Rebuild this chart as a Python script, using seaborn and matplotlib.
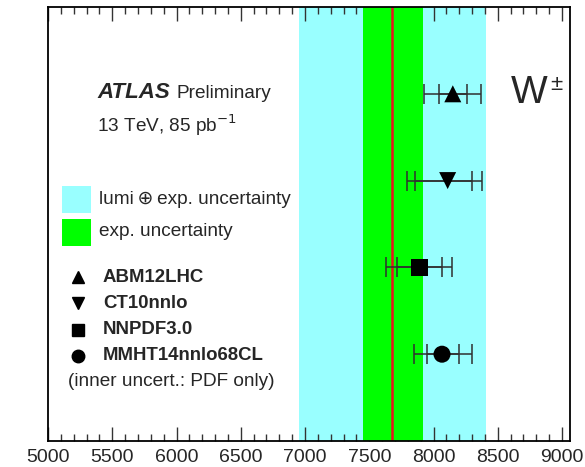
import numpy as np
import pandas as pd
import matplotlib
matplotlib.use('Agg')
import matplotlib.pyplot as plt
import seaborn as sns
from matplotlib.patches import Rectangle
from matplotlib.ticker import MultipleLocator

# data
meas_central = 7680
exp_band = [7450, 7915]
lumi_band = [6955, 8410]

pred_names = ['ABM12LHC', 'CT10nnlo', 'NNPDF3.0', 'MMHT14nnlo68CL']
pred_markers = ['^', 'v', 's', 'o']
pred_value = [8150, 8110, 7890, 8066]
pdf_lo = [8045, 7859, 7713, 7953]
pdf_hi = [8258, 8300, 8064, 8201]
tot_lo = [7929, 7791, 7633, 7846]
tot_hi = [8370, 8377, 8147, 8297]
pred_row = [4, 3, 2, 1]

xticks = [5000, 5500, 6000, 6500, 7000, 7500, 8000, 8500, 9000]

sns.set_theme(style='ticks')
plt.rcParams['font.family'] = ['Liberation Sans', 'DejaVu Sans']

W, H = 585, 467
fig = plt.figure(figsize=(W / 100, H / 100), dpi=100)
ax = fig.add_axes([48 / W, 1 - 441 / H, (570 - 48) / W, (441 - 7) / H])

df = pd.DataFrame({'name': pred_names, 'value': pred_value, 'row': pred_row,
                   'pdf_lo': pdf_lo, 'pdf_hi': pdf_hi, 'tot_lo': tot_lo, 'tot_hi': tot_hi})

# bands + measurement
ax.axvspan(lumi_band[0], lumi_band[1], color='#99ffff', lw=0, zorder=0)
ax.axvspan(exp_band[0], exp_band[1], color='#00ff00', lw=0, zorder=1)
ax.axvline(meas_central, color='#e8141e', lw=1.8, zorder=2)

# predictions: outer = total, inner = PDF only
for _, r in df.iterrows():
    ax.errorbar(r['value'], r['row'], xerr=[[r['value'] - r['tot_lo']], [r['tot_hi'] - r['value']]],
                fmt='none', ecolor='#303030', elinewidth=1.1, capsize=7, capthick=1.1, zorder=3)
    ax.errorbar(r['value'], r['row'], xerr=[[r['value'] - r['pdf_lo']], [r['pdf_hi'] - r['value']]],
                fmt='none', ecolor='#303030', elinewidth=1.1, capsize=7, capthick=1.1, zorder=3)
sns.scatterplot(data=df, x='value', y='row', style='name', markers=dict(zip(pred_names, pred_markers)),
                color='black', s=150, edgecolor='black', linewidth=0, legend=False, ax=ax, zorder=4)

ax.set_xlim(5000, 9062)
ax.set_ylim(0, 5)
ax.set_xticks(xticks)
ax.xaxis.set_minor_locator(MultipleLocator(100))
ax.set_yticks([])
ax.tick_params(axis='x', which='both', direction='in', top=True, bottom=True,
               labelsize=14, pad=6, color='#333333')
ax.tick_params(axis='x', which='major', length=10, width=1)
ax.tick_params(axis='x', which='minor', length=5, width=1)
for s in ax.spines.values():
    s.set_linewidth(1.3)
    s.set_color('black')
ax.set_xlabel('')
ax.set_ylabel('')


def fx(px):
    return px / W


def fy(py):
    return 1 - py / H


# labels
fig.text(fx(97), fy(93), 'ATLAS', fontsize=16, fontweight='bold', fontstyle='italic', va='center')
fig.text(fx(176), fy(93), 'Preliminary', fontsize=13.7, va='center')
fig.text(fx(97), fy(125), '13 TeV, 85 pb$^{-1}$', fontsize=13.7, va='center')
fig.text(fx(511), fy(93), 'W', fontsize=28, va='center')
fig.text(fx(550), fy(84), '±', fontsize=16, va='center')

# band legend
fig.patches.append(Rectangle((fx(62), fy(213)), 29 / W, 27 / H, transform=fig.transFigure,
                             color='#99ffff', lw=0))
fig.patches.append(Rectangle((fx(62), fy(246)), 29 / W, 27 / H, transform=fig.transFigure,
                             color='#00ff00', lw=0))
fig.text(fx(99), fy(199), 'lumi\u2009⊕\u2009exp. uncertainty', fontsize=13.7, va='center',
         family=['Liberation Sans', 'DejaVu Sans'])
fig.text(fx(99), fy(232), 'exp. uncertainty', fontsize=13.7, va='center')

# marker legend
for i, (name, mk) in enumerate(zip(pred_names, pred_markers)):
    y = [277, 303, 330, 356][i]
    fig.lines.append(plt.Line2D([fx(78)], [fy(y)], marker=mk, color='black', ms=9, ls='none',
                                transform=fig.transFigure))
    fig.text(fx(103), fy(y), name, fontsize=13.4, fontweight='bold', va='center')
fig.text(fx(68), fy(381), '(inner uncert.: PDF only)', fontsize=13.7, va='center')

fig.savefig('out.png', dpi=100)
